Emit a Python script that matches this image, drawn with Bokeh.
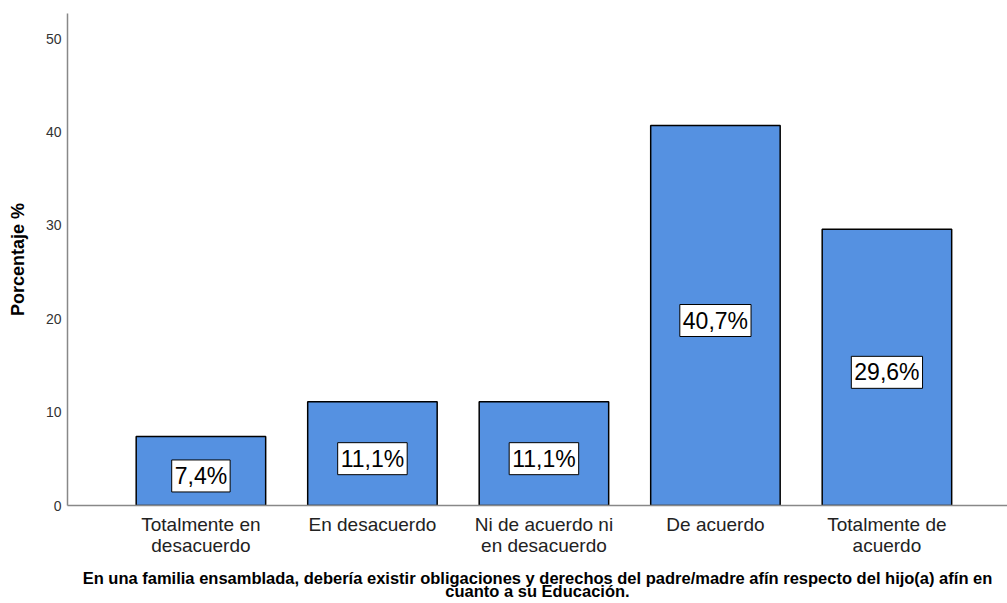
from bokeh.plotting import figure
from bokeh.models import Range1d, FixedTicker, ColumnDataSource
from bokeh.core.properties import value
from bokeh.embed import file_html
from bokeh.resources import INLINE

categories = ["Totalmente en\ndesacuerdo", "En desacuerdo", "Ni de acuerdo ni\nen desacuerdo",
              "De acuerdo", "Totalmente de\nacuerdo"]
values = [7.4, 11.1, 11.1, 40.7, 29.6]
labels = ["7,4%", "11,1%", "11,1%", "40,7%", "29,6%"]
y_ticks = [0, 10, 20, 30, 40, 50]
x_title = ["En una familia ensamblada, debería existir obligaciones y derechos del padre/madre afín respecto del hijo(a) afín en",
           "cuanto a su Educación."]

FONT = "Liberation Sans"
xs = list(range(1, len(categories) + 1))
src = ColumnDataSource(dict(x=xs, top=values, mid=[v / 2 for v in values], lab=labels))

p = figure(width=1007, height=603, output_backend="svg", toolbar_location=None,
           x_range=Range1d(0.222, 5.703), y_range=Range1d(0, 52.7),
           min_border_left=67, min_border_top=13, min_border_right=0, min_border_bottom=98)
p.outline_line_color = None
p.xgrid.visible = False
p.ygrid.visible = False
p.background_fill_color = "white"

p.vbar(x="x", top="top", bottom=0, width=0.755, source=src,
       fill_color="#5591e1", line_color="black", line_width=1.5)

p.text(x="x", y="mid", text="lab", source=src, text_align="center",
       text_baseline="middle", text_font=value(FONT), text_font_size="23px",
       text_color="black", background_fill_color="white",
       border_line_color="black", border_line_width=1, padding=3, y_offset=5)

# y axis
p.yaxis.ticker = FixedTicker(ticks=y_ticks)
p.yaxis.major_tick_line_color = None
p.yaxis.minor_tick_line_color = None
p.yaxis.axis_line_color = "#888888"
p.yaxis.axis_line_width = 1.5
p.yaxis.major_label_text_font = FONT
p.yaxis.major_label_text_font_size = "14px"
p.yaxis.major_label_text_color = "#333333"
p.yaxis.major_label_standoff = 0
p.yaxis.axis_label = "Porcentaje %"
p.yaxis.axis_label_text_font = FONT
p.yaxis.axis_label_text_font_size = "18px"
p.yaxis.axis_label_text_font_style = "bold"
p.yaxis.axis_label_text_color = "black"
p.yaxis.axis_label_standoff = 15

# x axis
p.xaxis.ticker = FixedTicker(ticks=xs)
p.xaxis.major_label_overrides = {x: c for x, c in zip(xs, categories)}
p.xaxis.major_tick_line_color = None
p.xaxis.minor_tick_line_color = None
p.xaxis.major_tick_out = 0
p.xaxis.major_tick_in = 0
p.xaxis.axis_line_color = "#888888"
p.xaxis.axis_line_width = 1.5
p.xaxis.major_label_text_font = FONT
p.xaxis.major_label_text_font_size = "19px"
p.xaxis.major_label_text_color = "#222222"
p.xaxis.major_label_text_line_height = 1.0
p.xaxis.major_label_standoff = 8
p.xaxis.axis_label = "\n".join(x_title)
p.xaxis.axis_label_text_font = FONT
p.xaxis.axis_label_text_font_size = "16.5px"
p.xaxis.axis_label_text_font_style = "bold"
p.xaxis.axis_label_text_color = "black"
p.xaxis.axis_label_text_line_height = 0.75
p.xaxis.axis_label_standoff = 10

open("out.html", "w").write(file_html(p, INLINE))
